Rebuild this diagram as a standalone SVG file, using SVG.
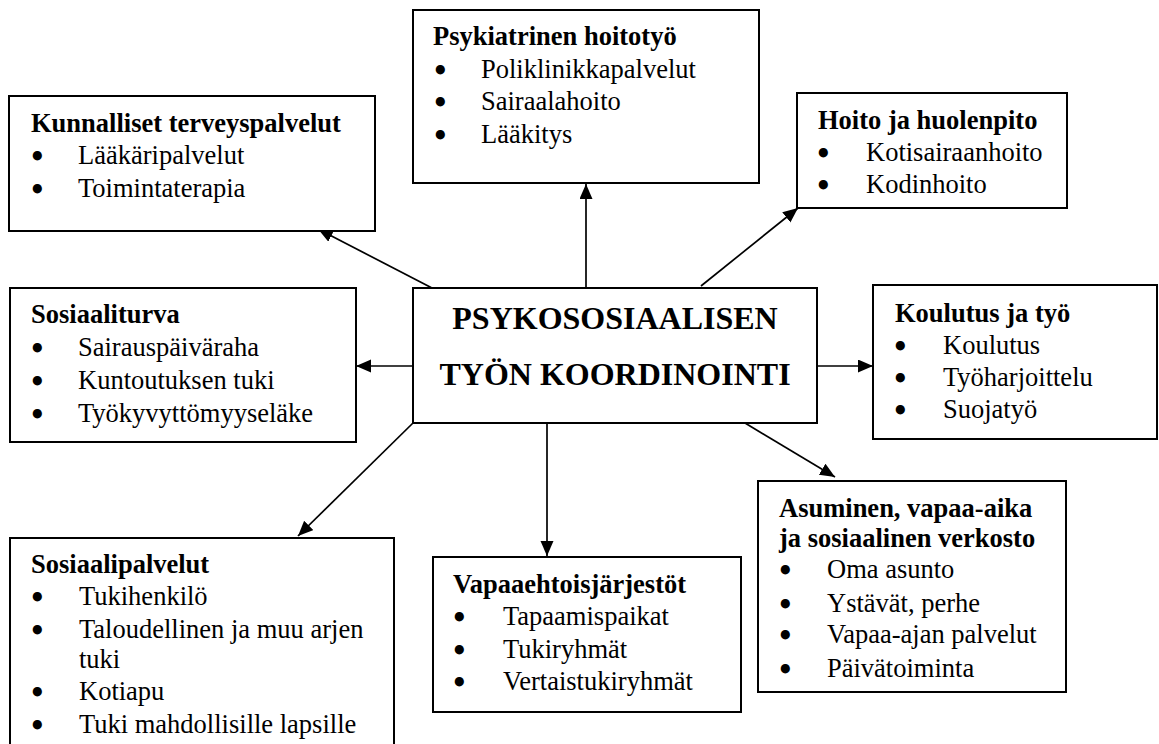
<svg xmlns="http://www.w3.org/2000/svg" width="1159" height="744" viewBox="0 0 1159 744">
<style>
text{font-family:"Liberation Serif","Times New Roman",serif;font-size:26.5px;fill:#000}
.h{font-weight:bold}
.b{font-family:"DejaVu Sans",sans-serif;font-weight:bold;font-size:26px}
.c{font-weight:bold;font-size:32px;text-anchor:middle}
.box{fill:#fff;stroke:#000;stroke-width:2}
.conn line{stroke:#000;stroke-width:1.7;marker-end:url(#ah)}
</style>
<defs>
<marker id="ah" markerUnits="userSpaceOnUse" markerWidth="16" markerHeight="14" refX="15" refY="6.5" orient="auto">
<path d="M0,0 L15,6.5 L0,13 z" fill="#000"/>
</marker>
</defs>
<rect width="1159" height="744" fill="#fff"/>
<g class="conn" id="connectors">
<line x1="432" y1="288" x2="318" y2="229"/>
<line x1="586" y1="288" x2="586" y2="184"/>
<line x1="701" y1="286" x2="798" y2="208"/>
<line x1="413" y1="366" x2="356" y2="366"/>
<line x1="817" y1="366" x2="873" y2="366"/>
<line x1="413" y1="423" x2="298" y2="536"/>
<line x1="547" y1="423" x2="547" y2="556"/>
<line x1="745" y1="423" x2="835" y2="477"/>
</g>
<g id="center">
<rect class="box" x="413" y="288" width="404" height="135"/>
<text class="c" x="615" y="329">PSYKOSOSIAALISEN</text>
<text class="c" x="615" y="385">TYÖN KOORDINOINTI</text>
</g>
<g id="kunnalliset">
<rect class="box" x="9" y="96" width="366" height="135"/>
<text class="h" x="31" y="132">Kunnalliset terveyspalvelut</text>
<text class="b" x="29" y="166">•</text><text x="78" y="164">Lääkäripalvelut</text>
<text class="b" x="29" y="199">•</text><text x="78" y="197">Toimintaterapia</text>
</g>
<g id="psykiatrinen">
<rect class="box" x="413" y="10" width="346" height="173"/>
<text class="h" x="433" y="45">Psykiatrinen hoitotyö</text>
<text class="b" x="432" y="80">•</text><text x="481" y="78">Poliklinikkapalvelut</text>
<text class="b" x="432" y="112">•</text><text x="481" y="110">Sairaalahoito</text>
<text class="b" x="432" y="145">•</text><text x="481" y="143">Lääkitys</text>
</g>
<g id="hoito">
<rect class="box" x="797" y="93" width="270" height="115"/>
<text class="h" x="818" y="129">Hoito ja huolenpito</text>
<text class="b" x="815" y="163">•</text><text x="866" y="161">Kotisairaanhoito</text>
<text class="b" x="815" y="195">•</text><text x="866" y="193">Kodinhoito</text>
</g>
<g id="sosiaaliturva">
<rect class="box" x="10" y="288" width="346" height="154"/>
<text class="h" x="31" y="323">Sosiaaliturva</text>
<text class="b" x="29" y="358">•</text><text x="78" y="356">Sairauspäiväraha</text>
<text class="b" x="29" y="391">•</text><text x="78" y="389">Kuntoutuksen tuki</text>
<text class="b" x="29" y="424">•</text><text x="78" y="422">Työkyvyttömyyseläke</text>
</g>
<g id="koulutus">
<rect class="box" x="873" y="285" width="284" height="154"/>
<text class="h" x="895" y="322">Koulutus ja työ</text>
<text class="b" x="892" y="356">•</text><text x="943" y="354">Koulutus</text>
<text class="b" x="892" y="388">•</text><text x="943" y="386">Työharjoittelu</text>
<text class="b" x="892" y="420">•</text><text x="943" y="418">Suojatyö</text>
</g>
<g id="sosiaalipalvelut">
<rect class="box" x="10" y="538" width="384" height="230"/>
<text class="h" x="31" y="573">Sosiaalipalvelut</text>
<text class="b" x="29" y="607">•</text><text x="79" y="605">Tukihenkilö</text>
<text class="b" x="29" y="640">•</text><text x="79" y="638">Taloudellinen ja muu arjen</text>
<text x="79" y="668">tuki</text>
<text class="b" x="29" y="702">•</text><text x="79" y="700">Kotiapu</text>
<text class="b" x="29" y="735">•</text><text x="79" y="733">Tuki mahdollisille lapsille</text>
</g>
<g id="vapaaehtois">
<rect class="box" x="433" y="557" width="308" height="155"/>
<text class="h" x="453" y="593">Vapaaehtoisjärjestöt</text>
<text class="b" x="451" y="627">•</text><text x="503" y="625">Tapaamispaikat</text>
<text class="b" x="451" y="660">•</text><text x="503" y="658">Tukiryhmät</text>
<text class="b" x="451" y="692">•</text><text x="503" y="690">Vertaistukiryhmät</text>
</g>
<g id="asuminen">
<rect class="box" x="758" y="481" width="308" height="211"/>
<text class="h" x="779" y="517">Asuminen, vapaa-aika</text>
<text class="h" x="779" y="547">ja sosiaalinen verkosto</text>
<text class="b" x="777" y="580">•</text><text x="827" y="578">Oma asunto</text>
<text class="b" x="777" y="614">•</text><text x="827" y="612">Ystävät, perhe</text>
<text class="b" x="777" y="645">•</text><text x="827" y="643">Vapaa-ajan palvelut</text>
<text class="b" x="777" y="679">•</text><text x="827" y="677">Päivätoiminta</text>
</g>
</svg>
